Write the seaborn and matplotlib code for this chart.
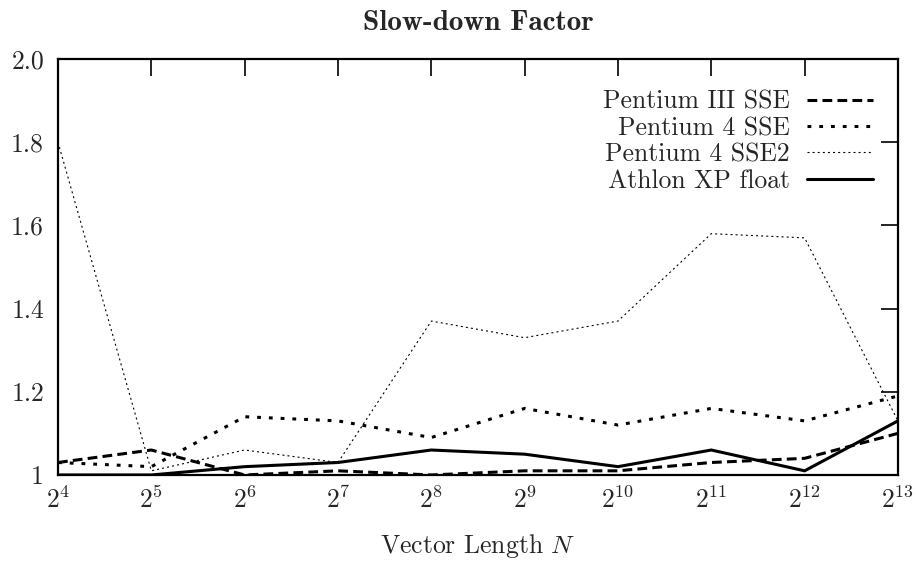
import matplotlib
matplotlib.use("Agg")
import matplotlib.pyplot as plt
import seaborn as sns
import pandas as pd

# Vector lengths N (powers of two) and slow-down factors per processor
exponents = [4, 5, 6, 7, 8, 9, 10, 11, 12, 13]
vector_length = [2 ** e for e in exponents]
pentium3_sse = [1.03, 1.06, 1.00, 1.01, 1.00, 1.01, 1.01, 1.03, 1.04, 1.10]
pentium4_sse = [1.03, 1.02, 1.14, 1.13, 1.09, 1.16, 1.12, 1.16, 1.13, 1.19]
pentium4_sse2 = [1.80, 1.01, 1.06, 1.03, 1.37, 1.33, 1.37, 1.58, 1.57, 1.13]
athlon_xp_float = [1.00, 1.00, 1.02, 1.03, 1.06, 1.05, 1.02, 1.06, 1.01, 1.13]

y_ticks = [1.0, 1.2, 1.4, 1.6, 1.8, 2.0]
y_tick_labels = ["1", "1.2", "1.4", "1.6", "1.8", "2.0"]

sns.set_theme(style="white")
plt.rcParams["font.family"] = ["cmr10", "DejaVu Serif"]
plt.rcParams["mathtext.fontset"] = "cm"
plt.rcParams["axes.formatter.use_mathtext"] = True

FS = 18.5

fig = plt.figure(figsize=(9.16, 5.67), dpi=100)
ax = fig.add_axes([0.0633, 0.1623, 0.9170, 0.7337])

series = [
    ("Pentium III SSE", pentium3_sse, dict(lw=2.2, dashes=(3.2, 1.7))),
    ("Pentium 4 SSE", pentium4_sse, dict(lw=2.2, dashes=(1.25, 2.6))),
    ("Pentium 4 SSE2", pentium4_sse2, dict(lw=0.8, dashes=(1.8, 2.8))),
    ("Athlon XP float", athlon_xp_float, dict(lw=2.2, dashes=())),
]

for name, values, style in series:
    df = pd.DataFrame({"N": vector_length, "factor": values})
    sns.lineplot(data=df, x="N", y="factor", ax=ax, color="black",
                 label=name, linewidth=style["lw"])
    line = ax.lines[-1]
    if style["dashes"]:
        line.set_dashes(style["dashes"])
    line.set_dash_capstyle("butt")
    line.set_solid_joinstyle("miter")

ax.set_xscale("log", base=2)
ax.set_xlim(2 ** 4, 2 ** 13)
ax.set_ylim(1.0, 2.0)
ax.set_xticks(vector_length)
ax.set_xticklabels([f"$2^{{{e}}}$" for e in exponents])
ax.minorticks_off()
ax.set_yticks(y_ticks)
ax.set_yticklabels(y_tick_labels)

ax.tick_params(axis="both", which="major", direction="in", length=12, width=1.2,
               top=True, right=True, labelsize=FS, color="black")
ax.tick_params(axis="x", pad=8)
ax.tick_params(axis="y", pad=10)
for spine in ax.spines.values():
    spine.set_visible(True)
    spine.set_color("black")
    spine.set_linewidth(1.6)

ax.set_xlabel("Vector Length $N$", fontsize=FS, labelpad=14)
ax.set_ylabel("")
ax.set_title("Slow-down Factor", fontsize=21, family="cmb10", pad=21)

leg = ax.legend(loc="upper right", bbox_to_anchor=(0.983, 0.95), frameon=False,
                markerfirst=False, fontsize=FS, handlelength=2.6,
                handletextpad=0.65, labelspacing=0.1, borderaxespad=0)
for h in leg.get_lines():
    h.set_dash_capstyle("butt")

fig.savefig("out.png", dpi=100, facecolor="white")
